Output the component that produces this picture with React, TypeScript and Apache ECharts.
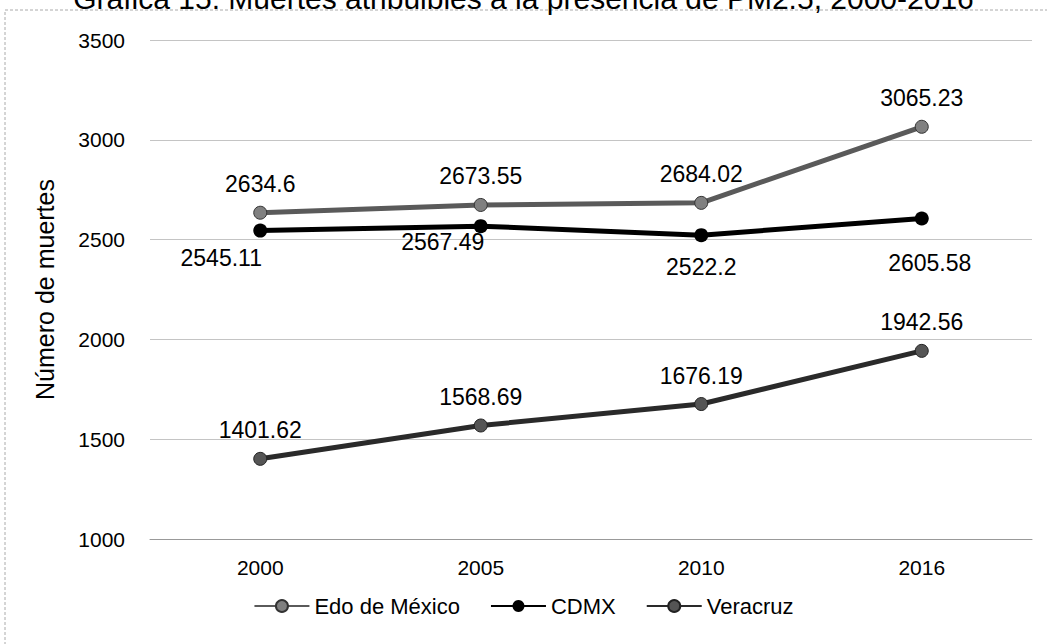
import React, { useEffect, useRef } from "react";
import * as echarts from "echarts";

const years = ["2000", "2005", "2010", "2016"];
const edoMexico = [2634.6, 2673.55, 2684.02, 3065.23];
const cdmx = [2545.11, 2567.49, 2522.2, 2605.58];
const veracruz = [1401.62, 1568.69, 1676.19, 1942.56];
const cdmxLabelOffsets = [[-39, 4], [-38, -8], [0, 8], [8, 21]];

export default function App() {
  const ref = useRef<HTMLDivElement>(null);
  useEffect(() => {
    const chart = echarts.init(ref.current!, null, { renderer: "svg" });
    const font = "Arial, 'Liberation Sans', sans-serif";
    const lbl = { show: true, position: "top", distance: 10, fontSize: 23, color: "#000", fontFamily: font };
    chart.setOption({
      animation: false,
      backgroundColor: "#fff",
      title: {
        text: "Gráfica 15. Muertes atribuibles a la presencia de PM2.5, 2000-2016",
        left: "center",
        top: -22,
        textStyle: { fontSize: 30, fontWeight: "normal", color: "#000", fontFamily: font },
      },
      graphic: [
        {
          type: "rect",
          shape: { x: 5, y: 10, width: 1060, height: 700 },
          style: { fill: "none", stroke: "#aaa", lineWidth: 1, lineDash: [3, 2] },
          silent: true,
        },
      ],
      grid: { left: 150, right: 15, top: 40, bottom: 105 },
      legend: {
        bottom: 22,
        left: "center",
        itemWidth: 55,
        itemHeight: 15,
        itemGap: 30,
        textStyle: { fontSize: 22, color: "#000", fontFamily: font },
        data: ["Edo de México", "CDMX", "Veracruz"],
      },
      xAxis: {
        type: "category",
        data: years,
        boundaryGap: true,
        axisLine: { lineStyle: { color: "#999", width: 1 } },
        axisTick: { show: false },
        axisLabel: { fontSize: 21, color: "#000", fontFamily: font, margin: 18 },
      },
      yAxis: {
        type: "value",
        min: 1000,
        max: 3500,
        interval: 500,
        name: "Número de muertes",
        nameLocation: "middle",
        nameGap: 93,
        nameTextStyle: { fontSize: 25, color: "#000", fontFamily: font },
        axisLine: { show: false },
        axisTick: { show: false },
        axisLabel: { fontSize: 21, color: "#000", fontFamily: font, margin: 25, formatter: (v: number) => String(v) },
        splitLine: { lineStyle: { color: "#c4c4c4", width: 1 } },
      },
      series: [
        {
          name: "Edo de México",
          type: "line",
          data: edoMexico,
          symbol: "circle",
          symbolSize: 13,
          lineStyle: { color: "#5a5a5a", width: 5 },
          itemStyle: { color: "#808080", borderColor: "#333", borderWidth: 1 },
          label: lbl,
        },
        {
          name: "CDMX",
          type: "line",
          data: cdmx.map((v, i) => ({
            value: v,
            label: { offset: cdmxLabelOffsets[i] },
          })),
          symbol: "circle",
          symbolSize: 14,
          lineStyle: { color: "#000", width: 5 },
          itemStyle: { color: "#000" },
          label: { ...lbl, position: "bottom", distance: 5 },
        },
        {
          name: "Veracruz",
          type: "line",
          data: veracruz,
          symbol: "circle",
          symbolSize: 13,
          lineStyle: { color: "#2a2a2a", width: 5 },
          itemStyle: { color: "#555", borderColor: "#222", borderWidth: 1 },
          label: lbl,
        },
      ],
    });
    return () => chart.dispose();
  }, []);
  return (
    <div
      ref={ref}
      style={{ position: "absolute", left: 0, top: 0, width: 1047, height: 644 }}
    />
  );
}
